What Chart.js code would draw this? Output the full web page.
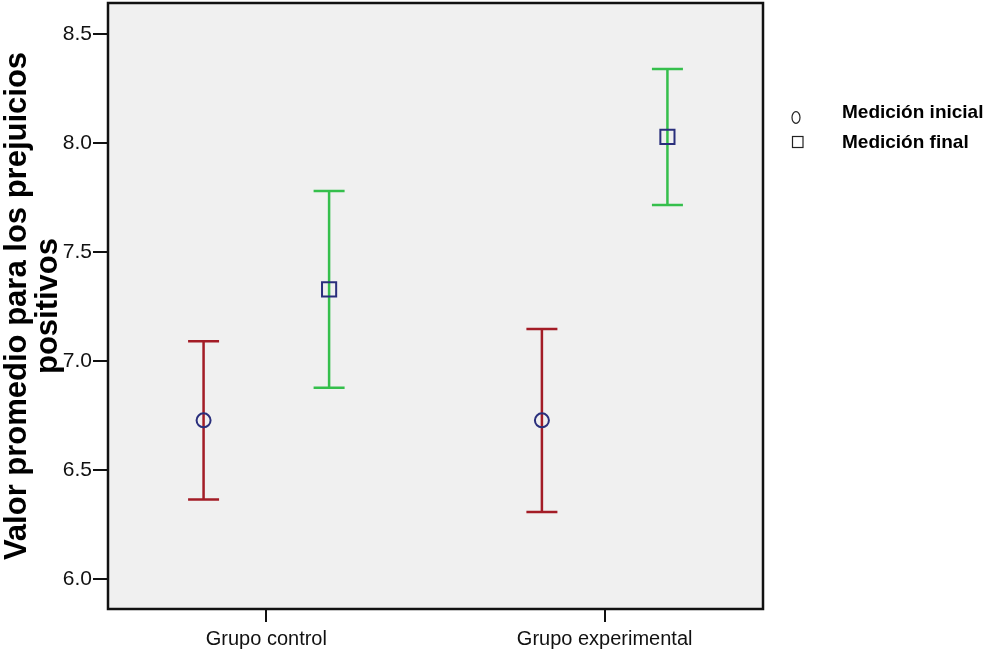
<!DOCTYPE html>
<html><head><meta charset="utf-8">
<script src="https://cdn.jsdelivr.net/npm/chart.js@4/dist/chart.umd.min.js"></script>
<style>html,body{margin:0;padding:0;background:#fff;}#wrap{width:1001px;height:653px;position:relative;}</style>
</head><body><div id="wrap"><canvas id="c" width="1001" height="653"></canvas></div>
<script>
const categories = ['Grupo control', 'Grupo experimental'];
const seriesNames = ['Medición inicial', 'Medición final'];
const meanInicial = [6.727, 6.727];
const lowInicial = [6.364, 6.307];
const highInicial = [7.090, 7.146];
const meanFinal = [7.328, 8.027];
const lowFinal = [6.877, 7.715];
const highFinal = [7.779, 8.338];
const yTicks = [6.0, 6.5, 7.0, 7.5, 8.0, 8.5];
const yTitle = ['Valor promedio para los prejuicios', 'positivos'];

const FONT = "'Liberation Sans', Arial, sans-serif";
const OFF = 0.1855;
const NAVY = '#2a2f7c', RED = '#a31c26', GREEN = '#35bf4c';

const errorBars = {
  id: 'errorBars',
  beforeDraw(chart) {
    const {ctx, chartArea: a} = chart;
    ctx.save();
    ctx.fillStyle = '#f0f0f0';
    ctx.fillRect(a.left, a.top, a.right - a.left, a.bottom - a.top);
    ctx.restore();
  },
  beforeDatasetsDraw(chart) {
    const {ctx, scales: {x, y}} = chart;
    ctx.save();
    chart.data.datasets.forEach(ds => {
      ctx.strokeStyle = ds.errColor;
      ctx.lineWidth = 2.5;
      ds.data.forEach((p, i) => {
        const px = x.getPixelForValue(p.x);
        const yl = y.getPixelForValue(ds.errLow[i]);
        const yh = y.getPixelForValue(ds.errHigh[i]);
        ctx.beginPath();
        ctx.moveTo(px, yl); ctx.lineTo(px, yh);
        ctx.moveTo(px - 15.5, yl); ctx.lineTo(px + 15.5, yl);
        ctx.moveTo(px - 15.5, yh); ctx.lineTo(px + 15.5, yh);
        ctx.stroke();
      });
    });
    ctx.restore();
  },
  afterDraw(chart) {
    const {ctx, chartArea: a} = chart;
    ctx.save();
    ctx.strokeStyle = '#111';
    ctx.lineWidth = 2.5;
    ctx.strokeRect(a.left, a.top, a.right - a.left, a.bottom - a.top);
    // legend
    ctx.strokeStyle = '#222';
    ctx.lineWidth = 1.2;
    ctx.beginPath();
    ctx.ellipse(796, 117.5, 4, 5.8, 0, 0, Math.PI * 2);
    ctx.stroke();
    ctx.strokeRect(792.5, 136.5, 10.5, 11);
    ctx.fillStyle = '#000';
    ctx.font = 'bold 19px ' + FONT;
    ctx.textAlign = 'left';
    ctx.textBaseline = 'alphabetic';
    ctx.fillText(seriesNames[0], 842, 118);
    ctx.fillText(seriesNames[1], 842, 148);
    ctx.restore();
  }
};

new Chart(document.getElementById('c'), {
  type: 'scatter',
  data: {
    datasets: [
      {
        label: seriesNames[0],
        data: categories.map((c, i) => ({x: i + 1 - OFF, y: meanInicial[i]})),
        errLow: lowInicial, errHigh: highInicial, errColor: RED,
        pointStyle: 'circle', radius: 7, borderWidth: 2,
        borderColor: NAVY, backgroundColor: 'rgba(0,0,0,0)'
      },
      {
        label: seriesNames[1],
        data: categories.map((c, i) => ({x: i + 1 + OFF, y: meanFinal[i]})),
        errLow: lowFinal, errHigh: highFinal, errColor: GREEN,
        pointStyle: 'rect', radius: 10, borderWidth: 2,
        borderColor: NAVY, backgroundColor: 'rgba(0,0,0,0)'
      }
    ]
  },
  options: {
    responsive: false,
    animation: false,
    devicePixelRatio: 1,
    layout: {autoPadding: false, padding: {left: 0, top: 3, right: 238, bottom: 0}},
    plugins: {legend: {display: false}, tooltip: {enabled: false}},
    scales: {
      x: {
        type: 'linear', min: 0.532, max: 2.468,
        afterBuildTicks: s => { s.ticks = categories.map((c, i) => ({value: i + 1})); },
        afterFit: s => { s.height = 44; s.paddingLeft = 0; s.paddingRight = 0; },
        border: {display: false},
        grid: {drawOnChartArea: false, drawTicks: true, tickLength: 13, tickColor: '#111', lineWidth: 2},
        ticks: {font: {family: FONT, size: 20}, color: '#111', padding: 5, maxRotation: 0,
          callback: (v, i) => categories[i]}
      },
      y: {
        type: 'linear', min: 5.862, max: 8.641,
        afterBuildTicks: s => { s.ticks = yTicks.map(v => ({value: v})); },
        afterFit: s => { s.width = 108; s.paddingTop = 0; s.paddingBottom = 0; },
        border: {display: false},
        grid: {drawOnChartArea: false, drawTicks: true, tickLength: 15, tickColor: '#111', lineWidth: 2},
        ticks: {font: {family: FONT, size: 21}, color: '#111', padding: 1,
          callback: v => Number(v).toFixed(1)},
        title: {display: true, text: yTitle, color: '#000',
          font: {family: FONT, size: 31, weight: 'bold', lineHeight: 1.0},
          padding: {top: 2, bottom: 0}}
      }
    }
  },
  plugins: [errorBars]
});
</script>
</body></html>
